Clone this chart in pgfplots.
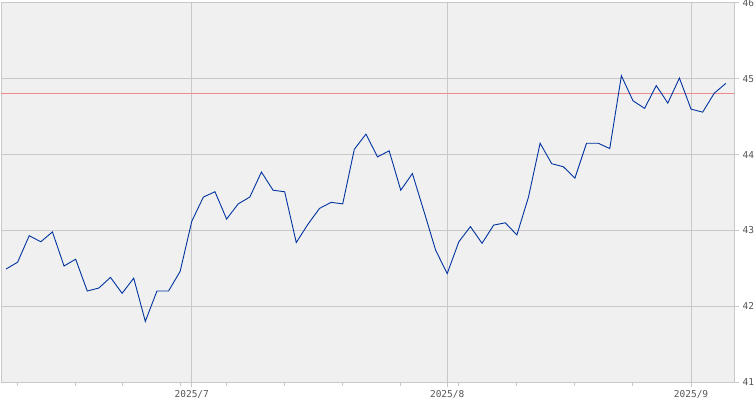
\documentclass[border=0pt]{standalone}
\usepackage{pgfplots}
\pgfplotsset{compat=1.18}
\usepackage{fontspec}
\setmainfont{DejaVu Sans Mono}
\definecolor{bg}{HTML}{F0F0F0}
\definecolor{gridc}{HTML}{C8C8C8}
\definecolor{txt}{HTML}{555555}
\definecolor{ln}{HTML}{0033A0}
\definecolor{refl}{HTML}{F08A8A}
\begin{document}
\begin{tikzpicture}
\begin{axis}[
  scale only axis, width=733bp, height=379bp,
  xmin=-0.43, xmax=62.7, ymin=41, ymax=46,
  axis background/.style={fill=bg},
  axis line style={gridc, line width=1bp},
  xtick={16,38,59}, xticklabels={2025/7,2025/8,2025/9},
  minor xtick={1,6,10,15,19,24,29,34,39,44,49,54},
  ytick={41,42,43,44,45,46},
  xtick pos=bottom, ytick pos=right,
  yticklabel pos=right,
  tick align=outside,
  major tick length=5bp, minor tick length=4bp,
  grid=major,
  major grid style={gridc, line width=1bp},
  tick style={gridc, line width=1bp},
  ticklabel style={font=\fontsize{9.5bp}{10bp}\selectfont, text=txt},
  /pgf/number format/assume math mode=true,
]
\addplot[refl, line width=0.9bp] coordinates {(-0.43,44.81) (62.7,44.81)};
\addplot[ln, line width=0.9bp, mark=none] coordinates {
(0,42.49) (1,42.58) (2,42.93) (3,42.85) (4,42.98) (5,42.53) (6,42.62) (7,42.20)
(8,42.24) (9,42.38) (10,42.17) (11,42.37) (12,41.80) (13,42.20) (14,42.20) (15,42.46)
(16,43.12) (17,43.44) (18,43.51) (19,43.15) (20,43.35) (21,43.44) (22,43.77) (23,43.53)
(24,43.51) (25,42.84) (26,43.08) (27,43.29) (28,43.37) (29,43.35) (30,44.07) (31,44.27)
(32,43.97) (33,44.05) (34,43.53) (35,43.75) (36,43.25) (37,42.74) (38,42.43) (39,42.85)
(40,43.05) (41,42.83) (42,43.07) (43,43.10) (44,42.94) (45,43.44) (46,44.15) (47,43.88)
(48,43.84) (49,43.69) (50,44.15) (51,44.15) (52,44.08) (53,45.04) (54,44.71) (55,44.61)
(56,44.91) (57,44.68) (58,45.01) (59,44.60) (60,44.56) (61,44.81) (62,44.94)
};
\end{axis}
\pgfresetboundingbox
\path[use as bounding box] ([shift={(-1bp,-18bp)}]current axis.south west) rectangle ([shift={(21bp,3bp)}]current axis.north east);
\end{tikzpicture}
\end{document}
